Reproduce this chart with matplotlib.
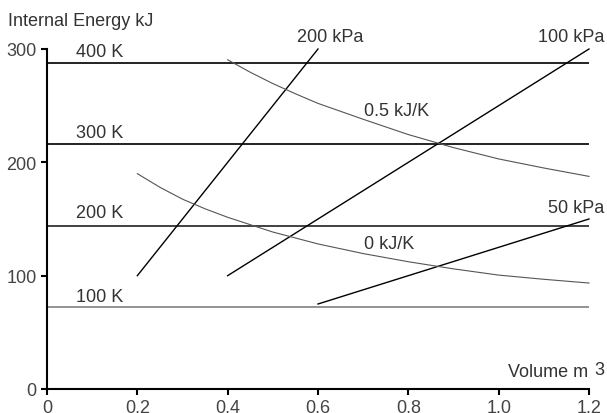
import matplotlib
matplotlib.use("Agg")
import matplotlib.pyplot as plt

plt.rcParams['font.family'] = ['Liberation Sans', 'DejaVu Sans']

# Isotherms (internal energy levels)
temp_labels = ["100 K", "200 K", "300 K", "400 K"]
temp_energy = [72, 144, 216, 288]
temp_colors = ["#8a8a8a", "#333333", "#111111", "#111111"]

# Isobars (straight lines: start/end volume and energy)
isobar_labels = ["200 kPa", "100 kPa", "50 kPa"]
isobar_v = [[0.2, 0.6], [0.4, 1.2], [0.6, 1.2]]
isobar_u = [[100, 300], [100, 300], [75, 150]]

# Isentropes (curves)
s0_v = [0.2, 0.25, 0.3, 0.35, 0.4, 0.5, 0.6, 0.7, 0.8, 0.9, 1.0, 1.1, 1.2]
s0_u = [190, 178, 167.5, 159, 151.5, 138.5, 128, 119.5, 112.3, 106, 100.5, 96.8, 93.5]
s05_v = [0.4, 0.45, 0.5, 0.55, 0.6, 0.7, 0.8, 0.9, 1.0, 1.1, 1.2]
s05_u = [290.5, 279.5, 269.5, 260.5, 252, 238, 224.5, 213, 203, 195, 187.6]

x_ticks = [0, 0.2, 0.4, 0.6, 0.8, 1.0, 1.2]
x_ticklabels = ["0", "0.2", "0.4", "0.6", "0.8", "1.0", "1.2"]
y_ticks = [0, 100, 200, 300]

fig = plt.figure(figsize=(6.07, 4.14), dpi=100)
ax = fig.add_axes([47/607, 24/414, 542/607, 340/414])
ax.set_xlim(0, 1.2)
ax.set_ylim(0, 300)

for u, c in zip(temp_energy, temp_colors):
    ax.plot([0, 1.2], [u, u], color=c, lw=1.3, clip_on=False, solid_capstyle='butt')

for v, u in zip(isobar_v, isobar_u):
    ax.plot(v, u, color="black", lw=1.0, clip_on=False)

ax.plot(s0_v, s0_u, color="#555555", lw=0.8, clip_on=False, solid_joinstyle='round')
ax.plot(s05_v, s05_u, color="#555555", lw=0.8, clip_on=False, solid_joinstyle='round')

tc = "#333333"
fs = 13
# temperature labels
temp_label_y = [82, 156, 226.5, 298]
for lab, y in zip(temp_labels, temp_label_y):
    ax.text(0.065, y, lab, fontsize=fs, color=tc, ha='left', va='center')

ax.text(0.553, 311, isobar_labels[0], fontsize=fs, color=tc, ha='left', va='center', clip_on=False)
ax.text(1.233, 311, isobar_labels[1], fontsize=fs, color=tc, ha='right', va='center', clip_on=False)
ax.text(1.233, 160, isobar_labels[2], fontsize=fs, color=tc, ha='right', va='center', clip_on=False)

ax.text(0.702, 245.5, "0.5 kJ/K", fontsize=fs, color=tc, ha='left', va='center')
ax.text(0.702, 128.5, "0 kJ/K", fontsize=fs, color=tc, ha='left', va='center')

# axis titles
fig.text(8/607, 1 - 21.5/414, "Internal Energy kJ", fontsize=fs, color=tc, ha='left', va='center')
ax.text(1.197, 15.5, "Volume m", fontsize=fs, color=tc, ha='right', va='center')
ax.text(1.212, 17.5, "3", fontsize=fs, color=tc, ha='left', va='center', clip_on=False)

for side in ['top', 'right']:
    ax.spines[side].set_visible(False)
for side in ['left', 'bottom']:
    ax.spines[side].set_linewidth(1.5)
    ax.spines[side].set_color('black')

ax.set_xticks(x_ticks)
ax.set_xticklabels(x_ticklabels)
ax.set_yticks(y_ticks)
ax.tick_params(axis='both', direction='out', length=4, width=1.5, color='black',
               labelsize=fs, labelcolor='#444444', pad=3.5)

fig.savefig("out.png", dpi=100)
